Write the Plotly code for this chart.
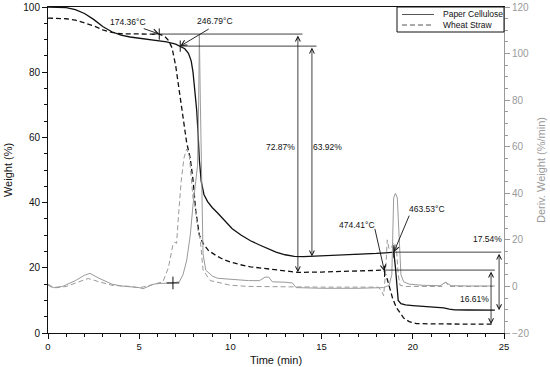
import plotly.graph_objects as go

# ---------------- data ----------------
# Paper cellulose: weight (%) vs time (min)
t_pc = [0, 0.5, 1.0, 1.5, 2.0, 2.5, 3.0, 3.5, 4.0, 4.5, 5.0, 5.5, 6.0, 6.5, 7.0, 7.25,
        7.5, 7.7, 7.85, 7.95, 8.05, 8.15, 8.22, 8.3, 8.4, 8.55, 8.75, 9.0, 9.3, 9.7,
        10.1, 10.6, 11.1, 11.6, 12.0, 12.5, 13.0, 13.5, 14.0, 15.0, 16.0, 17.0, 18.0,
        18.5, 18.8, 18.96, 19.05, 19.12, 19.2, 19.35, 19.6, 20.0, 20.5, 21.0, 21.7,
        22.0, 22.3, 23.0, 24.0, 24.5]
w_pc = [100, 100, 99.8, 99.2, 98.0, 96.2, 94.0, 92.4, 91.4, 90.8, 90.4, 90.1, 89.8,
        89.3, 88.6, 88.0, 87.2, 85.8, 83.5, 80.0, 75.0, 68.5, 62.0, 53.0, 46.5, 42.5,
        40.3, 38.5, 36.8, 34.5, 32.0, 30.0, 28.3, 27.0, 26.0, 24.8, 24.0, 23.5, 23.4,
        23.6, 23.8, 24.1, 24.4, 24.6, 24.7, 24.8, 20.0, 14.0, 10.0, 9.0, 8.6, 8.4,
        8.2, 8.0, 7.7, 7.3, 7.1, 7.05, 7.0, 7.0]

# Wheat straw: weight (%) vs time (min)
t_ws = [0, 0.5, 1.0, 1.5, 2.0, 2.5, 3.0, 3.5, 4.0, 4.5, 5.0, 5.5, 6.1, 6.4, 6.6, 6.8,
        7.0, 7.2, 7.4, 7.6, 7.8, 7.95, 8.1, 8.3, 8.5, 8.8, 9.2, 9.6, 10.0, 10.5, 11.1,
        12.0, 13.0, 13.7, 15.0, 16.0, 17.0, 18.0, 18.3, 18.45, 18.6, 18.75, 18.9, 19.1,
        19.3, 19.5, 19.8, 20.2, 21.0, 22.0, 23.0, 24.0, 24.4]
w_ws = [96.6, 96.6, 96.4, 96.0, 95.2, 94.2, 93.0, 92.2, 91.8, 91.7, 91.7, 91.7, 91.7,
        91.0, 89.8, 87.5, 82.0, 74.0, 65.0, 58.5, 53.5, 47.0, 37.5, 30.0, 27.5, 25.3,
        23.8, 22.6, 21.8, 21.0, 20.3, 19.7, 19.1, 18.6, 18.7, 18.8, 19.0, 19.2, 19.3,
        18.9, 16.5, 13.2, 10.5, 7.8, 6.0, 4.6, 3.5, 2.9, 2.8, 2.7, 2.7, 2.7, 2.7]

# Paper cellulose: derivative weight (%/min)
t_dpc = [0, 0.3, 0.8, 1.5, 2.0, 2.3, 2.8, 3.5, 4.0, 4.5, 5.0, 5.2, 5.5, 5.8, 6.2, 6.85,
         7.2, 7.4, 7.6, 7.8, 7.95, 8.1, 8.2, 8.26, 8.3, 8.35, 8.42, 8.5, 8.65, 9.0, 9.3,
         10.0, 11.0, 11.6, 11.9, 12.1, 12.3, 13.0, 13.4, 13.6, 15.0, 17.0, 18.0, 18.4,
         18.7, 18.85, 18.95, 19.05, 19.15, 19.25, 19.35, 19.5, 19.8, 20.5, 21.5, 21.8,
         22.1, 23.0, 24.0, 24.5]
d_pc = [1.0, -0.5, 0.0, 2.5, 4.8, 5.6, 3.5, 1.0, 0.2, 0.0, -0.5, -1.0, 0.0, 1.0, 1.3,
        1.5, 2.0, 5.0, 11.0, 22.0, 35.0, 45.0, 52.0, 80.0, 108.0, 80.0, 50.0, 14.0, 7.0,
        4.5, 3.5, 3.0, 2.5, 2.5, 4.0, 4.0, 2.0, 1.8, 1.5, -0.5, -0.8, -0.8, -0.8, -0.5,
        0.5, 5.0, 38.0, 40.0, 38.0, 20.0, 5.0, 2.0, 1.0, 0.5, 0.3, 1.8, 0.3, 0.2, 0.2, 0.2]

# Wheat straw: derivative weight (%/min)
t_dws = [0, 0.3, 1.0, 1.5, 2.2, 2.8, 3.5, 4.5, 5.0, 5.5, 6.0, 6.3, 6.6, 6.85, 6.95, 7.05,
         7.15, 7.3, 7.45, 7.6, 7.75, 7.85, 7.95, 8.05, 8.2, 8.35, 8.5, 8.9, 9.5, 10.0,
         11.0, 13.0, 15.0, 18.1, 18.3, 18.4, 18.5, 18.6, 18.7, 18.85, 18.95, 19.1, 19.2,
         19.3, 19.6, 21.6, 21.8, 22.0, 24.4]
d_ws = [0.5, -0.7, 0.0, 1.5, 3.4, 2.0, 0.5, 0.0, -0.6, 0.3, 1.2, 2.0, 8.0, 18.0, 19.0,
        18.5, 30.0, 45.0, 55.0, 59.0, 56.0, 45.0, 38.0, 35.0, 25.0, 20.0, 7.0, 2.5, 1.5,
        0.5, 0.0, -0.3, -0.3, -0.3, -2.0, -4.0, 5.0, 20.0, 16.0, 17.0, 19.0, 17.0, 5.0,
        0.5, 0.0, 0.0, 1.8, 0.0, 0.0]

# Onset points (time, weight, label)
onset_t = [6.1, 7.25, 18.45, 18.96]
onset_w = [91.7, 88.0, 18.9, 24.8]
onset_labels = ["174.36°C", "246.79°C", "474.41°C", "463.53°C"]

# Mass-loss brackets: (x position, top weight, bottom weight, label)
loss_x = [13.7, 14.47, 24.73, 24.29]
loss_top = [91.7, 88.0, 24.8, 19.3]
loss_bottom = [18.6, 23.5, 7.0, 2.7]
loss_labels = ["72.87%", "63.92%", "17.54%", "16.61%"]

series_names = ["Paper Cellulose", "Wheat Straw"]

# ---------------- figure ----------------
BLACK = "#111111"
GRAY = "#9a9a9a"
FONT = "Liberation Sans, Arial, sans-serif"
DASH = "5px,3px"
ANN = 8.5

fig = go.Figure()

fig.add_trace(go.Scatter(x=t_dpc, y=d_pc, yaxis="y2", mode="lines", showlegend=False,
                         line=dict(color=GRAY, width=1)))
fig.add_trace(go.Scatter(x=t_dws, y=d_ws, yaxis="y2", mode="lines", showlegend=False,
                         line=dict(color=GRAY, width=1, dash=DASH)))
fig.add_trace(go.Scatter(x=t_pc, y=w_pc, mode="lines", name=series_names[0], showlegend=False,
                         line=dict(color=BLACK, width=1.3)))
fig.add_trace(go.Scatter(x=t_ws, y=w_ws, mode="lines", name=series_names[1], showlegend=False,
                         line=dict(color=BLACK, width=1.3, dash=DASH)))

# onset tick markers
fig.add_trace(go.Scatter(x=onset_t, y=onset_w, mode="markers", showlegend=False,
                         marker=dict(symbol="line-ns", size=8, line=dict(color=BLACK, width=1))))
# "+" marker on the derivative curve
fig.add_trace(go.Scatter(x=[6.85], y=[1.5], yaxis="y2", mode="markers", showlegend=False,
                         marker=dict(symbol="cross-thin", size=9, line=dict(color=BLACK, width=1))))

# horizontal reference lines from onset points to the brackets
ref_lines = [(onset_t[0], 13.95, loss_top[0]),
             (onset_t[1], 14.72, loss_top[1]),
             (onset_t[3], 24.85, loss_top[2]),
             (onset_t[2], 24.5, loss_top[3])]
for x0, x1, yv in ref_lines:
    fig.add_shape(type="line", xref="x", yref="y", x0=x0, x1=x1, y0=yv, y1=yv,
                  line=dict(color=BLACK, width=0.8))

annotations = []
# double-headed arrows + labels
for lx, ltop, lbot in zip(loss_x, loss_top, loss_bottom):
    annotations.append(dict(x=lx, y=lbot, ax=lx, ay=ltop, xref="x", yref="y",
                            axref="x", ayref="y", text="", showarrow=True,
                            arrowhead=5, startarrowhead=5, arrowside="end+start",
                            arrowsize=1.2, arrowwidth=0.8, arrowcolor=BLACK,
                            standoff=0, startstandoff=0))
loss_label_pos = [(12.77, 57.1), (15.35, 57.1), (24.07, 28.8), (23.36, 10.4)]
for (px, py), lab in zip(loss_label_pos, loss_labels):
    annotations.append(dict(x=px, y=py, xref="x", yref="y", text=lab, showarrow=False,
                            font=dict(size=ANN, color=BLACK, family=FONT)))

# onset arrows (pixel offsets of tails) and labels
onset_tail = [(-17, -6), (30, -18), (-10, -44), (16, -38)]
onset_label_pos = [(4.39, 95.4), (9.16, 95.7), (16.94, 33.1), (20.78, 38.0)]
for ot, ow, (axp, ayp) in zip(onset_t, onset_w, onset_tail):
    annotations.append(dict(x=ot, y=ow, xref="x", yref="y", ax=axp, ay=ayp, text="",
                            showarrow=True, arrowhead=5, arrowsize=1.2, arrowwidth=0.9,
                            arrowcolor=BLACK, standoff=0))
for (px, py), lab in zip(onset_label_pos, onset_labels):
    annotations.append(dict(x=px, y=py, xref="x", yref="y", text=lab, showarrow=False,
                            font=dict(size=ANN, color=BLACK, family=FONT)))

# ---- hand-drawn legend box (paper coords) ----
L, R, T, B = 48.0, 504.0, 7.0, 333.0
def px_x(p):
    return (p - L) / (R - L)
def px_y(p):
    return (B - p) / (B - T)

fig.add_shape(type="rect", xref="paper", yref="paper",
              x0=px_x(397), x1=px_x(504), y0=px_y(32), y1=px_y(7),
              line=dict(color=BLACK, width=1), fillcolor="white", layer="above")
for i, (nm, dsh) in enumerate(zip(series_names, ["solid", DASH])):
    yy = 14.5 + 10.5 * i
    fig.add_shape(type="line", xref="paper", yref="paper",
                  x0=px_x(402), x1=px_x(434), y0=px_y(yy), y1=px_y(yy),
                  line=dict(color="#555555", width=1, dash=dsh), layer="above")
    annotations.append(dict(x=px_x(441), y=px_y(yy), xref="paper", yref="paper",
                            xanchor="left", yanchor="middle", text=nm, showarrow=False,
                            font=dict(size=ANN, color=BLACK, family=FONT)))

fig.update_layout(
    width=550, height=367,
    margin=dict(l=48, r=46, t=7, b=34, autoexpand=False),
    paper_bgcolor="white", plot_bgcolor="white",
    font=dict(family=FONT, size=10, color=BLACK),
    showlegend=False,
    xaxis=dict(range=[0, 25], dtick=5, tick0=0, showgrid=False, zeroline=False,
               showline=True, linecolor=BLACK, linewidth=1, mirror=True,
               ticks="outside", ticklen=5, tickcolor=BLACK, tickwidth=1,
               minor=dict(ticks="outside", dtick=1, ticklen=3, tickcolor=BLACK),
               title=dict(text="Time (min)", font=dict(size=11, family=FONT), standoff=4),
               tickfont=dict(size=9.5, family=FONT), automargin=False),
    yaxis=dict(range=[0, 100], dtick=20, showgrid=False, zeroline=False,
               showline=True, linecolor=BLACK, linewidth=1,
               ticks="outside", ticklen=5, tickcolor=BLACK,
               minor=dict(ticks="outside", dtick=5, ticklen=3, tickcolor=BLACK),
               title=dict(text="Weight (%)", font=dict(size=11, family=FONT), standoff=8),
               tickfont=dict(size=10, family=FONT), automargin=False),
    yaxis2=dict(range=[-20, 120], dtick=20, overlaying="y", side="right",
                showgrid=False, zeroline=False, showline=True, linecolor=GRAY, linewidth=1,
                ticks="outside", ticklen=5, tickcolor=GRAY,
                minor=dict(ticks="outside", dtick=5, ticklen=3, tickcolor=GRAY),
                title=dict(text="Deriv. Weight (%/min)", font=dict(size=11, family=FONT, color=GRAY),
                           standoff=8),
                tickfont=dict(size=10, family=FONT, color=GRAY), automargin=False),
    annotations=annotations,
)

fig.write_html("out.html", config={"displayModeBar": False},
               post_script="document.body.style.margin='0px';")
